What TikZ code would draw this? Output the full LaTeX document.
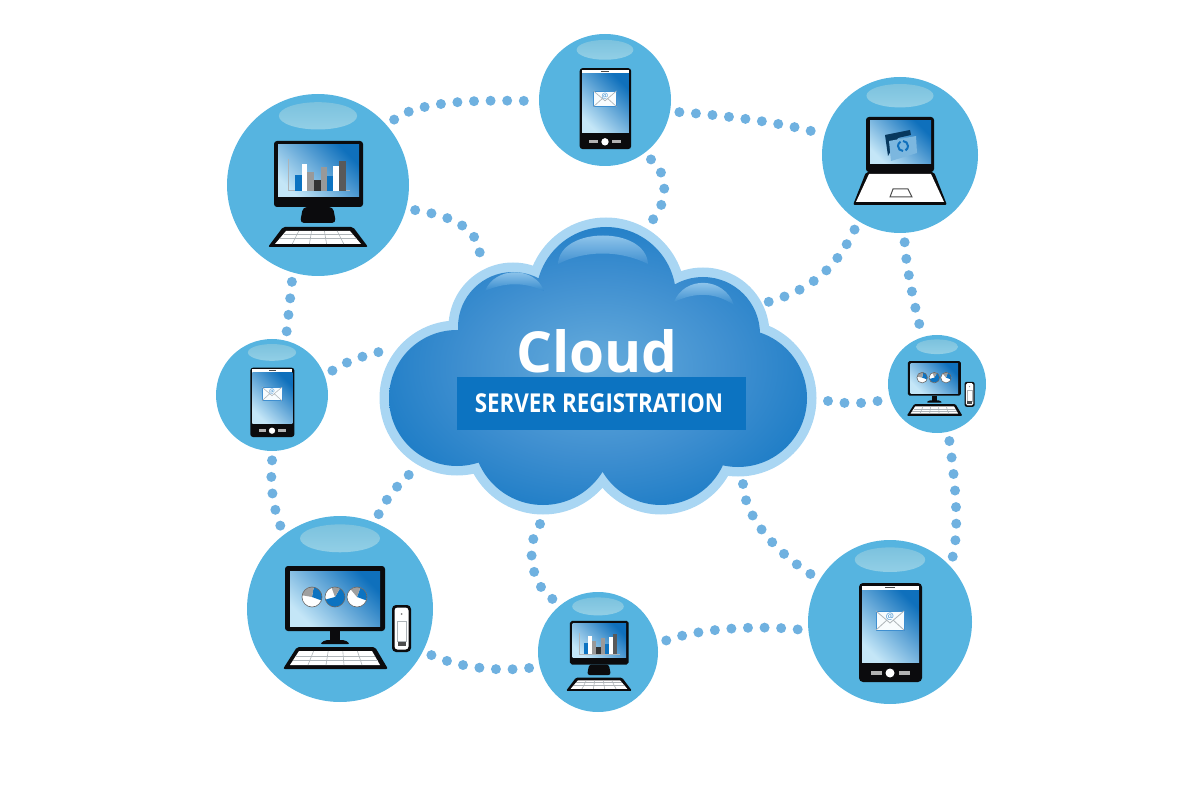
\documentclass[tikz,border=0pt]{standalone}
\usepackage{fontspec}
\setmainfont{Open Sans}
\newfontfamily\bandfont[FakeStretch=.86]{Open Sans}
\definecolor{hubblue}{HTML}{56B4E0}
\definecolor{glosstop}{HTML}{7CC2DE}
\definecolor{glossbot}{HTML}{92CFE6}
\definecolor{dotblue}{HTML}{6FB1E0}
\definecolor{cloudrim}{HTML}{A9D6F3}
\definecolor{cloudmid}{HTML}{66ACDC}
\definecolor{cloudsoft}{HTML}{3F8FD0}
\definecolor{clouddeep}{HTML}{0C73C1}
\definecolor{screenlow}{HTML}{C4E6F7}
\definecolor{screenhigh}{HTML}{0F70BC}
\definecolor{bodyblack}{HTML}{0B0B0D}
\definecolor{keygrey}{HTML}{AEB4B8}
\pgfdeclareradialshading{cloudglow}{\pgfpoint{0bp}{0bp}}{color(0bp)=(cloudmid); color(16bp)=(cloudsoft); color(34bp)=(clouddeep); color(50bp)=(clouddeep)}
\tikzset{
  hub/.style={circle, fill=hubblue, inner sep=0pt},
  dotlink/.style={dotblue, line width=5pt, line cap=round, dash pattern=on 0pt off 8.3pt, shorten <=4.5pt, shorten >=4pt},
  screen/.style={left color=screenlow, right color=screenhigh, shading angle=135},
  keyline/.style={keygrey, line width=.3pt},
}
% circle with its gloss
\newcommand{\hubnode}[4]{
  \node[hub, minimum size=#4 pt] (#1) at (#2,#3) {};
  \shade[top color=glosstop, bottom color=glossbot] (#2,{#3-.76*#4}) ellipse[x radius={.43*#4}, y radius={.15*#4}];
}
% bar chart desktop
\newcommand{\chartdesk}[2]{
  \begin{scope}[shift={(#1)}, scale=#2]
    \fill[bodyblack, rounded corners=#2*1.5pt] (-44,-44) rectangle (45,22);
    \shade[screen] (-40,-40) rectangle (41,12);
    \fill[bodyblack, rounded corners=#2*2pt] (-15,22) -- (15,22) -- (18,38) -- (-18,38) -- cycle;
    \draw[keygrey, line width=#2*.5pt] (-30,-26) -- (-30,6) -- (32,6);
    \fill[clouddeep] (-23,-10) rectangle (-16.3,5.7);
    \fill[white] (-16.3,-21) rectangle (-10.7,5.7);
    \fill[gray!80] (-10.7,-13) rectangle (-4,5.7);
    \fill[black!80] (-4,-5) rectangle (2.7,5.7);
    \fill[gray!80] (2.7,-18) rectangle (8.7,5.7);
    \fill[clouddeep] (8.7,-9) rectangle (15.3,5.7);
    \fill[white] (15.3,-19) rectangle (21.3,5.7);
    \fill[black!65] (21.3,-24) rectangle (28,5.7);
    \fill[bodyblack, rounded corners=#2*1pt] (-35,42) -- (35,42) -- (50,62) -- (-50,62) -- cycle;
    \fill[white] (-32,46) -- (32,46) -- (43,59) -- (-43,59) -- cycle;
    \foreach \k in {-.6,-.2,.2,.6}
      \draw[keyline] (32*\k,46) -- (43*\k,59);
    \draw[keyline] (-34.5,49) -- (34.5,49) (-38,53.5) -- (38,53.5);
  \end{scope}
}
% one pie: blue from #4 to #5, grey from #6 to #4
\newcommand{\piemark}[6]{
  \fill[white] (#1,#2) circle[radius=#3];
  \fill[clouddeep] (#1,#2) -- ++(#4:#3) arc[start angle=#4, end angle=#5, radius=#3] -- cycle;
  \fill[gray!75] (#1,#2) -- ++(#6:#3) arc[start angle=#6, end angle=#4, radius=#3] -- cycle;
  \draw[black!60, line width=.3pt] (#1,#2) circle[radius=#3];
}
% pie chart desktop with tower
\newcommand{\piedesk}[2]{
  \begin{scope}[shift={(#1)}, scale=#2]
    \fill[bodyblack, rounded corners=#2*1.5pt] (-55,-43) rectangle (45,22);
    \shade[screen] (-50,-38) rectangle (40,17);
    \fill[bodyblack] (-10,22) rectangle (0,32);
    \fill[bodyblack, rounded corners=#2*1pt] (-20,35) -- (-15,31) -- (5,31) -- (10,35) -- cycle;
    \piemark{-28}{-12}{10}{-80}{20}{-170}
    \piemark{-5}{-12}{10}{-60}{165}{-110}
    \piemark{17}{-12}{10}{-70}{20}{-130}
    \fill[bodyblack, rounded corners=#2*1pt] (-43,38) -- (35,38) -- (48,60) -- (-57,60) -- cycle;
    \fill[white] (-41,42) -- (32,42) -- (40,56) -- (-50,56) -- cycle;
    \foreach \k in {-.6,-.2,.2,.6}
      \draw[keyline] (-4.5+36.5*\k,42) -- (-5+45*\k,56);
    \draw[keyline] (-44,47) -- (35,47) (-47,51.5) -- (38,51.5);
    \fill[bodyblack, rounded corners=#2*2pt] (52,-4) rectangle (71,43);
    \fill[white, rounded corners=#2*1.5pt] (54.5,-1.5) rectangle (68.5,40.5);
    \draw[keygrey, line width=#2*.4pt] (57,12) rectangle (66,32);
    \fill[gray] (61.5,5) circle[radius=1];
    \fill[black!70] (57.5,33) rectangle (65.5,37);
  \end{scope}
}
% phone with a letter on the screen
\newcommand{\phonemark}[3]{
  \begin{scope}[shift={(#2)}, scale=#3]
    \pgfmathsetmacro{\mailsize}{#3*4.5}
    \fill[bodyblack, rounded corners=#3*2pt] (-31,-39) rectangle (32,60);
    \fill[white] (-28,-36.5) rectangle (29,-32);
    \fill[black!70] (-5,-35.5) rectangle (5,-34.5);
    \shade[screen] (-28,-32) rectangle (29,40);
    \fill[white] (0,51) circle[radius=4.5];
    \fill[gray!60] (-19,49) rectangle (-8,53);
    \fill[gray!60] (9,49) rectangle (20,53);
    \filldraw[fill=white!88!screenlow, draw=cloudsoft, line width=#3*.4pt] (-14,-11) rectangle (14,8);
    \draw[keygrey, line width=#3*.4pt] (-14,-11) -- (0,1) -- (14,-11) (-14,8) -- (-3,-2) (14,8) -- (3,-2);
    \node[text=cloudsoft, font=\fontsize{\mailsize}{5}\selectfont, inner sep=0pt] (#1mail) at (0,-5) {@};
  \end{scope}
}
% laptop with folder on the screen
\newcommand{\laptopmark}[2]{
  \begin{scope}[shift={(#1)}, scale=#2]
    \fill[bodyblack, rounded corners=#2*1.5pt] (-34,-38) rectangle (34,17);
    \shade[screen] (-30,-34) rectangle (31,9);
    \fill[black!50!screenhigh] (-15,-20) -- (10,-25) -- (11,-20) -- (-2,-17) -- (-12,1) -- cycle;
    \fill[screenlow!60!screenhigh] (-11,-14) -- (16,-19) -- (17,-2) -- (-9,6) -- cycle;
    \draw[screenhigh, line width=#2*1pt] (3,-14) arc[start angle=-90, end angle=60, radius=5] (3,-4) arc[start angle=90, end angle=240, radius=5];
    \fill[bodyblack, rounded corners=#2*1pt] (-34,17) -- (34,17) -- (47,50) -- (-47,50) -- cycle;
    \fill[white] (-31,19) -- (31,19) -- (44,47) -- (-44,47) -- cycle;
    \draw[black!70, line width=#2*.5pt] (-7,34) -- (8,34) -- (12,42) -- (-10,42) -- cycle;
  \end{scope}
}
\newcommand{\cloudlobes}[1]{
  (457,398) circle[radius={68+#1}] (513,327) circle[radius={55+#1}]
  (606,297) circle[radius={70+#1}] (703,334) circle[radius={57+#1}]
  (738,398) circle[radius={69+#1}] (543,435) circle[radius={70+#1}]
  (661,437) circle[radius={68+#1}] (600,375) circle[radius={95+#1}]
}

\begin{document}
\begin{tikzpicture}[x=.5pt, y=-.5pt]
\useasboundingbox (0,0) rectangle (1200,786);

% Circles
\hubnode{deskA}{318}{185}{91}
\hubnode{phoneTop}{605}{100}{66}
\hubnode{laptop}{900}{155}{78}
\hubnode{phoneLeft}{272}{395}{56}
\hubnode{deskRight}{937}{384}{49}
\hubnode{deskB}{340}{609}{93}
\hubnode{deskSmall}{598}{652}{60}
\hubnode{phoneBig}{890}{622}{82}

% Connector ends at the cloud
\coordinate (cloudN) at (649,224);
\coordinate (cloudNW) at (480,257);
\coordinate (cloudNE) at (768,302);
\coordinate (cloudW) at (383,351);
\coordinate (cloudSW) at (412,472);
\coordinate (cloudE) at (828,401);
\coordinate (cloudSE) at (743,484);
\coordinate (cloudS) at (540,524);

% Dotted connectors
\draw[dotlink] (deskA.41) .. controls (420,100) and (480,100) .. (phoneTop.-179);
\draw[dotlink] (phoneTop.-10) .. controls (720,115) and (780,122) .. (laptop.165);
\draw[dotlink, shorten >=0pt] (phoneTop.-54) .. controls (670,175) and (668,205) .. (cloudN);
\draw[dotlink, shorten >=0pt] (deskA.-15) .. controls (445,215) and (480,225) .. (cloudNW);
\draw[dotlink, shorten >=0pt] (laptop.-122) .. controls (835,270) and (810,290) .. (cloudNE);
\draw[dotlink] (laptop.-87) .. controls (906,265) and (913,300) .. (deskRight.107);
\draw[dotlink] (deskA.-106) .. controls (290,300) and (288,320) .. (phoneLeft.76);
\draw[dotlink, shorten >=0pt] (phoneLeft.20) .. controls (345,362) and (362,356) .. (cloudW);
\draw[dotlink] (phoneLeft.-89) .. controls (270,480) and (272,505) .. (deskB.127);
\draw[dotlink, shorten >=0pt] (deskB.68) .. controls (385,500) and (397,485) .. (cloudSW);
\draw[dotlink, shorten <=0pt] (cloudE) .. controls (845,404) and (865,404) .. (deskRight.-163);
\draw[dotlink] (deskRight.-77) .. controls (955,480) and (960,530) .. (phoneBig.43);
\draw[dotlink, shorten <=0pt] (cloudSE) .. controls (745,520) and (780,555) .. (phoneBig.149);
\draw[dotlink, shorten <=0pt] (cloudS) .. controls (525,545) and (530,585) .. (deskSmall.128);
\draw[dotlink] (deskB.-27) .. controls (460,668) and (500,672) .. (deskSmall.-166);
\draw[dotlink] (deskSmall.8) .. controls (700,628) and (760,625) .. (phoneBig.-174);

% Devices
\chartdesk{318,185}{1}
\chartdesk{599,650}{.66}
\piedesk{340,609}{1}
\piedesk{937,384}{.53}
\laptopmark{900,155}{1}
\phonemark{phoneA}{605,100}{.82}
\phonemark{phoneB}{272,395}{.7}
\phonemark{phoneC}{890,622}{1}

% Cloud
\fill[cloudrim] \cloudlobes{9.5};
\shade[shading=cloudglow] \cloudlobes{0};
\shade[top color=cloudrim, bottom color=cloudsoft] (558,264) .. controls (560,226) and (646,226) .. (648,264) .. controls (620,250) and (585,250) .. cycle;
\shade[top color=cloudrim, bottom color=cloudsoft!80!clouddeep] (485,291) .. controls (495,266) and (535,266) .. (544,291) .. controls (525,282) and (505,282) .. cycle;
\shade[top color=cloudrim, bottom color=cloudsoft!80!clouddeep] (674,302) .. controls (684,276) and (724,276) .. (734,305) .. controls (715,292) and (695,292) .. cycle;

% Labels
\node[anchor=base, text=white, font=\bfseries\fontsize{28.3}{30}\selectfont, inner sep=0pt] (title) at (597,372) {Cloud};
\node[fill=clouddeep, text=white, font=\bandfont\bfseries\fontsize{13}{14}\selectfont, minimum width=144.5pt, minimum height=26.5pt, inner sep=0pt] (band) at (601.5,403.5) {SERVER REGISTRATION\hspace*{2.5pt}};

\end{tikzpicture}
\end{document}
